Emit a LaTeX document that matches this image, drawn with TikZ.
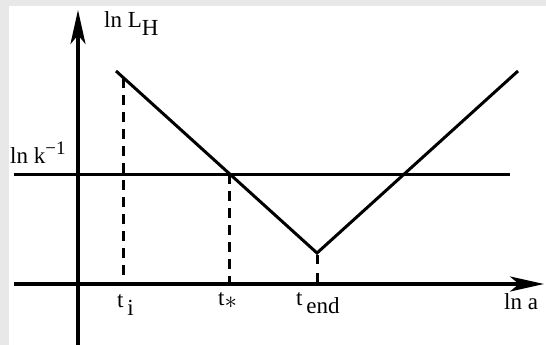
\documentclass[tikz,border=0pt]{standalone}
\usepackage{fontspec}
\setmainfont{Liberation Serif}
\usetikzlibrary{arrows.meta}
\begin{document}
\begin{tikzpicture}[x=1pt,y=-1pt,
 axis/.style={line width=4pt, -{Stealth[length=34pt,width=15pt,inset=9pt]}},
 curve/.style={line width=3pt},
 guide/.style={line width=3pt, dash pattern=on 10pt off 7pt},
 lbl/.style={anchor=base west, inner sep=0pt, font=\fontsize{23}{26}\selectfont}]
\fill[black!9] (0,0) rectangle (546,345);
\fill[white] (9,6) rectangle (546,345);
\useasboundingbox (0,0) rectangle (546,345);
% coordinates
\coordinate (xs) at (14,284);
\coordinate (xe) at (544,284);
\coordinate (ys) at (78,345);
\coordinate (ye) at (78,10);
\coordinate (k1) at (14,174);
\coordinate (k2) at (510,174);
\coordinate (v1) at (116,71);
\coordinate (v2) at (317,253);
\coordinate (v3) at (518,71);
\coordinate (ti) at (123,78);
\coordinate (tib) at (123,284);
\coordinate (ts) at (229,174);
\coordinate (tsb) at (229,284);
\coordinate (te) at (317,253);
\coordinate (teb) at (317,284);
% lines
\draw[curve] (k1) -- (k2);
\draw[curve, line join=miter] (v1) -- (v2) -- (v3);
\draw[guide] (ti) -- (tib);
\draw[guide] (ts) -- (tsb);
\draw[guide, dash pattern=on 9pt off 9pt, dash phase=-2pt] (te) -- (teb);
\draw[axis] (xs) -- (xe);
\draw[axis] (ys) -- (ye);
% labels
\node[lbl] (lh) at (104,28) {ln L\raisebox{-8pt}{H}};
\node[lbl] (lk) at (10,163) {ln k\raisebox{9pt}{\fontsize{19}{21}\selectfont −1}};
\node[lbl] (lti) at (117,307) {t\,\raisebox{-8pt}{i}};
\node[lbl] (lts) at (218,305) {t\raisebox{-3pt}{$\ast$}};
\node[lbl] (lte) at (296,305) {t\,\raisebox{-8pt}{end}};
\node[lbl] (la) at (504,309) {ln a};
\end{tikzpicture}
\end{document}
